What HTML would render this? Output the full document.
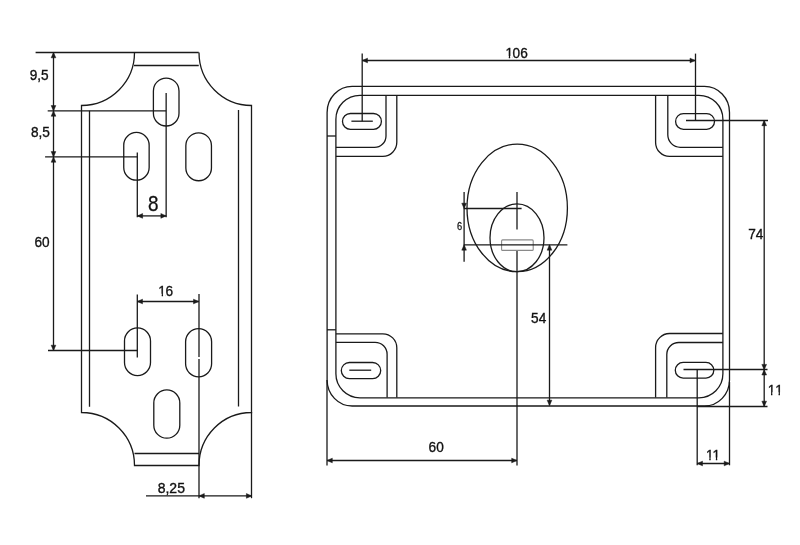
<!DOCTYPE html>
<html><head><meta charset="utf-8"><style>
html,body{margin:0;padding:0;background:#fff;}
svg{display:block;will-change:transform;}
svg line, svg path, svg rect, svg ellipse{fill:none;stroke:#1a1a1a;stroke-width:1.3;}
svg path.ah{fill:#1a1a1a;stroke:#1a1a1a;stroke-width:0.5;stroke-linejoin:miter;}
svg text{font-family:"Liberation Sans",sans-serif;fill:#111;stroke:#111;}
</style></head><body>
<svg width="800" height="545" viewBox="0 0 800 545">
<defs><clipPath id="c0" clipPathUnits="userSpaceOnUse"><rect x="-10" y="-40" width="200" height="37.817"/><rect x="4.057" y="-2.483" width="1.416" height="5.083"/><rect x="8.347" y="-2.483" width="7.781" height="8.083"/></clipPath><clipPath id="c1" clipPathUnits="userSpaceOnUse"><rect x="-10" y="-40" width="200" height="37.817"/><rect x="4.057" y="-2.483" width="1.416" height="5.083"/><rect x="8.347" y="-2.483" width="7.781" height="8.083"/><rect x="16.412" y="-2.483" width="7.781" height="8.083"/></clipPath><clipPath id="c2" clipPathUnits="userSpaceOnUse"><rect x="-10" y="-40" width="200" height="37.817"/><rect x="4.057" y="-2.483" width="1.416" height="5.083"/><rect x="12.121" y="-2.483" width="1.416" height="5.083"/></clipPath><clipPath id="c3" clipPathUnits="userSpaceOnUse"><rect x="-10" y="-40" width="200" height="37.817"/><rect x="4.057" y="-2.483" width="1.416" height="5.083"/><rect x="11.045" y="-2.483" width="1.416" height="5.083"/></clipPath></defs>
<line x1="35.6" y1="52.5" x2="198.75" y2="52.5"/>
<line x1="134" y1="65.5" x2="198.75" y2="65.5"/>
<path d="M134.5,52.5 A53,53 0 0 1 81.5,105.5 L81.5,412.5 A53,53 0 0 1 134.5,465.5 L199,465.5 A52.5,53 0 0 1 251.5,412.5 L251.5,105.5 A52.5,53 0 0 1 199,52.5"/>
<line x1="134.5" y1="453.5" x2="199" y2="453.5"/>
<line x1="89.5" y1="110.75" x2="89.5" y2="406.7"/>
<line x1="238.5" y1="110" x2="238.5" y2="406.5"/>
<line x1="251.5" y1="412" x2="251.5" y2="498.2"/>
<rect x="153.39999999999998" y="78.1" width="25.6" height="47.900000000000006" rx="12.8" ry="12.8"/>
<rect x="123.74999999999999" y="132.45" width="25.4" height="47.70000000000002" rx="12.7" ry="12.7"/>
<rect x="185.85" y="132.85" width="25.6" height="47.900000000000006" rx="12.8" ry="12.8"/>
<rect x="124.5" y="327.95" width="26" height="47.650000000000034" rx="13.0" ry="13.0"/>
<rect x="185.6" y="328.65" width="26.0" height="48.150000000000034" rx="13.0" ry="13.0"/>
<rect x="153.8" y="389.95" width="26.0" height="48.19999999999999" rx="13.0" ry="13.0"/>
<line x1="166.15" y1="93" x2="166.15" y2="217.3"/>
<line x1="47.7" y1="110.9" x2="166.15" y2="110.9"/>
<line x1="137.3" y1="152.5" x2="137.3" y2="217.3"/>
<line x1="45.1" y1="156.9" x2="137.3" y2="156.9"/>
<line x1="137.3" y1="294.5" x2="137.3" y2="357.5"/>
<line x1="48" y1="350.5" x2="137.3" y2="350.5"/>
<line x1="199" y1="294" x2="199" y2="357"/>
<line x1="199" y1="359" x2="199" y2="498.2"/>
<line x1="53.5" y1="52.5" x2="53.5" y2="350.5"/>
<path class="ah" d="M53.50,52.50L55.85,57.80L53.50,57.80L51.15,57.80Z"/>
<path class="ah" d="M53.50,110.90L51.15,105.60L53.50,105.60L55.85,105.60Z"/>
<path class="ah" d="M53.50,110.90L55.85,116.20L53.50,116.20L51.15,116.20Z"/>
<path class="ah" d="M53.50,156.90L51.15,151.60L53.50,151.60L55.85,151.60Z"/>
<path class="ah" d="M53.50,156.90L55.85,162.20L53.50,162.20L51.15,162.20Z"/>
<path class="ah" d="M53.50,350.50L51.15,345.20L53.50,345.20L55.85,345.20Z"/>
<line x1="137.3" y1="215.9" x2="166.15" y2="215.9"/>
<path class="ah" d="M137.30,215.90L142.60,213.55L142.60,215.90L142.60,218.25Z"/>
<path class="ah" d="M166.15,215.90L160.85,218.25L160.85,215.90L160.85,213.55Z"/>
<line x1="137.2" y1="301.5" x2="198.8" y2="301.5"/>
<path class="ah" d="M137.20,301.50L142.50,299.15L142.50,301.50L142.50,303.85Z"/>
<path class="ah" d="M198.80,301.50L193.50,303.85L193.50,301.50L193.50,299.15Z"/>
<line x1="146" y1="495.9" x2="251.7" y2="495.9"/>
<path class="ah" d="M199.00,495.90L204.30,493.55L204.30,495.90L204.30,498.25Z"/>
<path class="ah" d="M251.70,495.90L246.40,498.25L246.40,495.90L246.40,493.55Z"/>
<g transform="translate(29.7,79.9) scale(0.94,1.04)"><text x="0" y="0" font-size="14.5" style="stroke-width:0.35">9,5</text></g>
<g transform="translate(31.0,136.8) scale(0.94,1.04)"><text x="0" y="0" font-size="14.5" style="stroke-width:0.35">8,5</text></g>
<g transform="translate(34.5,247.2) scale(0.94,1.07)"><text x="0" y="0" font-size="14.5" style="stroke-width:0.35">60</text></g>
<g transform="translate(147.9,211.3) scale(0.86,1.0)"><text x="0" y="0" font-size="22" style="stroke-width:0.3">8</text></g>
<g transform="translate(157.9,296) scale(0.94,1.04)" clip-path="url(#c0)"><text x="0.481" y="0" font-size="14.5" style="stroke-width:0.35">1</text><text x="8.064" y="0" font-size="14.5" style="stroke-width:0.35">6</text></g>
<g transform="translate(157.7,493.4) scale(0.965,1.04)"><text x="0" y="0" font-size="14.5" style="stroke-width:0.35">8,25</text></g>
<rect x="327.1" y="86.4" width="402.4" height="319.6" rx="25" ry="26"/>
<rect x="335.9" y="95.3" width="387" height="302.5" rx="24" ry="24"/>
<line x1="327" y1="136.0" x2="335.9" y2="136.0"/>
<line x1="327" y1="329.8" x2="335.9" y2="329.8"/>
<path d="M386,95.4 L386,135.9 A11.5,11.5 0 0 1 374.5,147.4 L335.9,147.4"/>
<path d="M396.8,95.4 L396.8,142.3 A14,14 0 0 1 382.8,156.3 L335.9,156.3"/>
<path d="M667.8,95.4 L667.8,134.8 A12.5,12.5 0 0 0 680.3,147.3 L722.9,147.3"/>
<path d="M655.6,95.4 L655.6,142.4 A14,14 0 0 0 669.6,156.4 L722.9,156.4"/>
<path d="M335.9,333.8 L382.8,333.8 A14,14 0 0 1 396.8,347.8 L396.8,397.6"/>
<path d="M335.9,342.3 L375.1,342.3 A12,12 0 0 1 387.1,354.3 L387.1,397.6"/>
<path d="M722.9,333.5 L669.6,333.5 A14,14 0 0 0 655.6,347.5 L655.6,397.6"/>
<path d="M722.9,342.5 L678.8,342.5 A12,12 0 0 0 666.8,354.5 L666.8,397.6"/>
<rect x="342.5" y="113.5" width="38.89999999999998" height="15.8" rx="7.9" ry="7.9"/>
<rect x="675.6" y="113.60000000000001" width="38.89999999999998" height="15.7" rx="7.85" ry="7.85"/>
<rect x="341.3" y="362.5" width="39.39999999999998" height="16.2" rx="8.1" ry="8.1"/>
<rect x="675.3" y="362.4" width="38.5" height="15.7" rx="7.85" ry="7.85"/>
<line x1="351.4" y1="121.2" x2="372.8" y2="121.2"/>
<line x1="349.3" y1="370.2" x2="371.2" y2="370.2"/>
<line x1="362.2" y1="53.6" x2="362.2" y2="121.2"/>
<line x1="695.5" y1="53.6" x2="695.5" y2="120.4"/>
<line x1="362.2" y1="60.5" x2="695.3" y2="60.5"/>
<path class="ah" d="M362.20,60.50L367.50,58.15L367.50,60.50L367.50,62.85Z"/>
<path class="ah" d="M695.30,60.50L690.00,62.85L690.00,60.50L690.00,58.15Z"/>
<g transform="translate(505,58.2) scale(0.94,1.04)" clip-path="url(#c1)"><text x="0.481" y="0" font-size="14.5" style="stroke-width:0.35">1</text><text x="8.064" y="0" font-size="14.5" style="stroke-width:0.35">06</text></g>
<line x1="686" y1="120.5" x2="768" y2="120.5"/>
<line x1="683.5" y1="369.5" x2="767.5" y2="369.5"/>
<line x1="764.2" y1="120.4" x2="764.2" y2="406.5"/>
<path class="ah" d="M764.20,120.40L766.55,125.70L764.20,125.70L761.85,125.70Z"/>
<path class="ah" d="M764.20,369.70L761.85,364.40L764.20,364.40L766.55,364.40Z"/>
<path class="ah" d="M764.20,369.70L766.55,375.00L764.20,375.00L761.85,375.00Z"/>
<path class="ah" d="M764.20,406.50L761.85,401.20L764.20,401.20L766.55,401.20Z"/>
<line x1="697" y1="406.5" x2="767.5" y2="406.5"/>
<g transform="translate(748.3,238.5) scale(0.94,1.04)"><text x="0" y="0" font-size="14.5" style="stroke-width:0.35">74</text></g>
<g transform="translate(767.2,394.6) scale(0.94,1.04)" clip-path="url(#c2)"><text x="0.481" y="0" font-size="14.5" style="stroke-width:0.35">1</text><text x="8.546" y="0" font-size="14.5" style="stroke-width:0.35">1</text></g>
<line x1="697.2" y1="369.7" x2="697.2" y2="465.3"/>
<line x1="729.5" y1="382" x2="729.5" y2="465.3"/>
<line x1="697.2" y1="463.5" x2="729.5" y2="463.5"/>
<path class="ah" d="M697.20,463.50L702.50,461.15L702.50,463.50L702.50,465.85Z"/>
<path class="ah" d="M729.50,463.50L724.20,465.85L724.20,463.50L724.20,461.15Z"/>
<g transform="translate(705.5,459.8) scale(0.94,1.04)" clip-path="url(#c3)"><text x="0.481" y="0" font-size="14.5" style="stroke-width:0.35">1</text><text x="7.469" y="0" font-size="14.5" style="stroke-width:0.35">1</text></g>
<ellipse cx="517.2" cy="207.9" rx="50.2" ry="63.8"/>
<ellipse cx="517" cy="237.8" rx="27" ry="33.9"/>
<rect x="501.6" y="239.9" width="31.6" height="10.5" rx="1" ry="1" style="stroke:#8a8a8a;stroke-width:1.1"/>
<line x1="517" y1="191.9" x2="517" y2="229.6"/>
<line x1="517" y1="250.9" x2="517" y2="465.6"/>
<line x1="463.8" y1="208.5" x2="521.6" y2="208.5"/>
<line x1="463.8" y1="244.85" x2="567.4" y2="244.85"/>
<line x1="464.1" y1="192" x2="464.1" y2="261.7"/>
<path class="ah" d="M464.10,208.50L461.75,203.20L464.10,203.20L466.45,203.20Z"/>
<path class="ah" d="M464.10,244.85L466.45,250.15L464.10,250.15L461.75,250.15Z"/>
<g transform="translate(457.0,229.9) scale(0.85,1.04)"><text x="0" y="0" font-size="11" style="stroke-width:0.25">6</text></g>
<line x1="549.5" y1="244.85" x2="549.5" y2="405.5"/>
<path class="ah" d="M549.50,244.85L551.85,250.15L549.50,250.15L547.15,250.15Z"/>
<path class="ah" d="M549.50,405.50L547.15,400.20L549.50,400.20L551.85,400.20Z"/>
<g transform="translate(531.1,322.5) scale(0.94,1.04)"><text x="0" y="0" font-size="14.5" style="stroke-width:0.35">54</text></g>
<line x1="327" y1="380" x2="327" y2="465.6"/>
<line x1="327" y1="460.5" x2="517" y2="460.5"/>
<path class="ah" d="M327.00,460.50L332.30,458.15L332.30,460.50L332.30,462.85Z"/>
<path class="ah" d="M517.00,460.50L511.70,462.85L511.70,460.50L511.70,458.15Z"/>
<g transform="translate(428.6,452.1) scale(0.94,1.05)"><text x="0" y="0" font-size="14.5" style="stroke-width:0.35">60</text></g>
</svg>
</body></html>
